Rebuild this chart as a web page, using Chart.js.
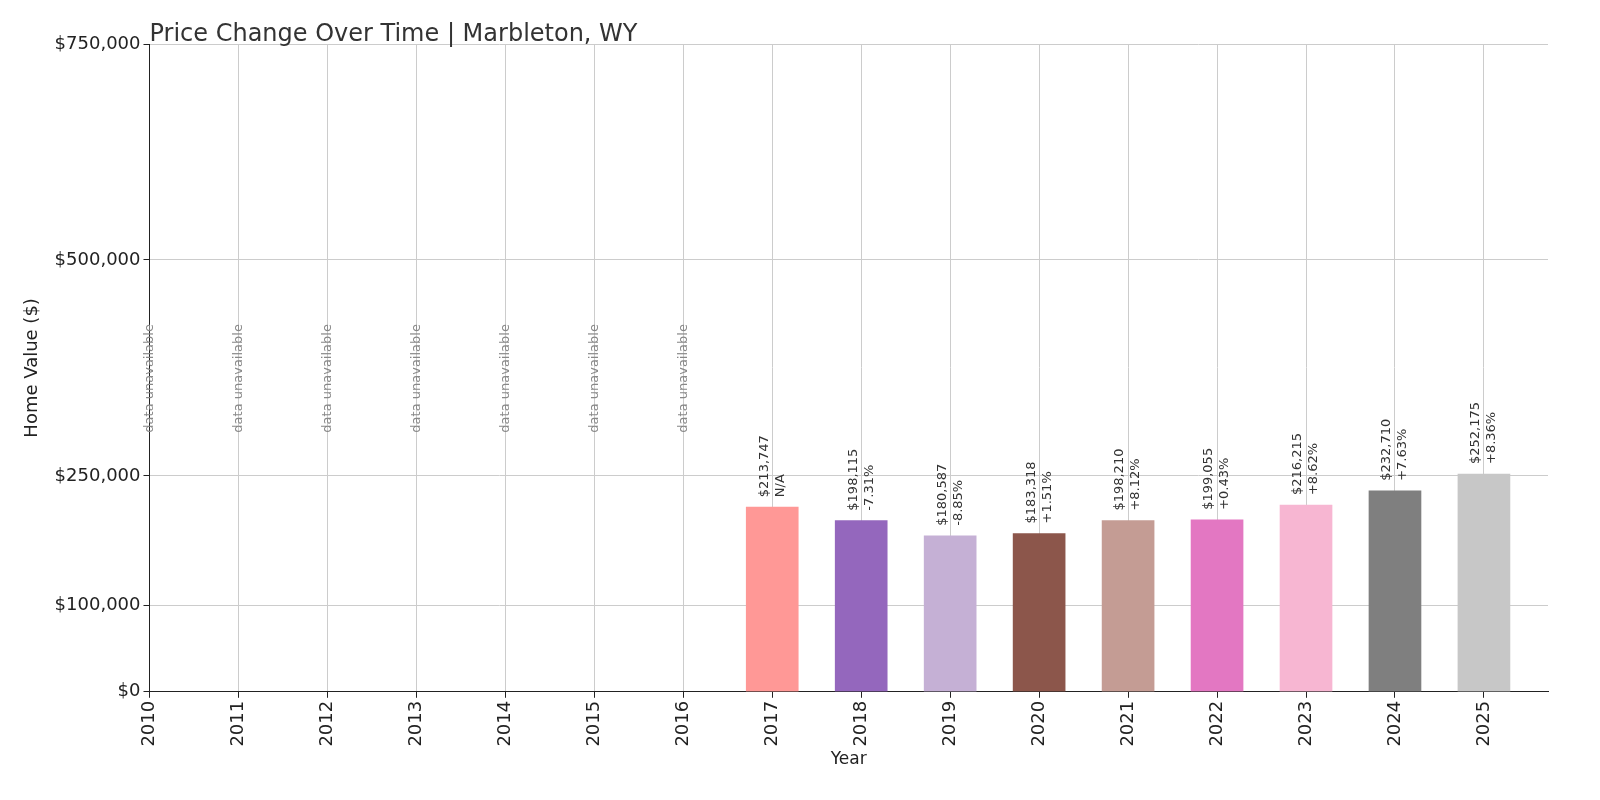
<!DOCTYPE html>
<html><head><meta charset="utf-8">
<script src="https://cdn.jsdelivr.net/npm/chart.js@4"></script>
<style>html,body{margin:0;padding:0;background:#fff}#wrap{width:1600px;height:800px}</style>
</head><body><div id="wrap"><canvas id="c" width="1600" height="800"></canvas></div>
<script>
const years = [2010,2011,2012,2013,2014,2015,2016,2017,2018,2019,2020,2021,2022,2023,2024,2025];
const values = [null,null,null,null,null,null,null,213747,198115,180587,183318,198210,199055,216215,232710,252175];
const changes = ["","","","","","","","N/A","-7.31%","-8.85%","+1.51%","+8.12%","+0.43%","+8.62%","+7.63%","+8.36%"];
const colors = ["","","","","","","","#ff9896","#9467bd","#c5b0d5","#8c564b","#c49c94","#e377c2","#f7b6d2","#7f7f7f","#c7c7c7"];
const yTicks = [0,100000,250000,500000,750000];
const titleText = 'Price Change Over Time | Marbleton, WY';

const fmt = v => '$' + v.toLocaleString('en-US');
const labelPlugin = {
  id:'lbl',
  afterDatasetsDraw(chart){
    const ctx = chart.ctx, xs = chart.scales.x, ys = chart.scales.y;
    ctx.save();
    ctx.font = '24px "DejaVu Sans"';
    ctx.fillStyle = '#333'; ctx.textAlign='left'; ctx.textBaseline='alphabetic';
    ctx.fillText(titleText, chart.chartArea.left, 41);
    ctx.font = '13px "DejaVu Sans"';
    years.forEach((yr,i)=>{
      const x = xs.getPixelForValue(yr);
      ctx.save();
      if (values[i] == null) {
        ctx.translate(x, ys.getPixelForValue(300000));
        ctx.rotate(-Math.PI/2);
        ctx.fillStyle = '#888';
        ctx.textAlign='left'; ctx.textBaseline='middle';
        ctx.fillText('data unavailable', 0, 0);
      } else {
        ctx.translate(x, ys.getPixelForValue(values[i]) - 10);
        ctx.rotate(-Math.PI/2);
        ctx.fillStyle = '#333';
        ctx.textAlign='left'; ctx.textBaseline='middle';
        ctx.fillText(fmt(values[i]), 0, -8);
        ctx.fillText(changes[i], 0, 8);
      }
      ctx.restore();
    });
    ctx.restore();
  }
};

new Chart(document.getElementById('c'), {
  type:'bar',
  data:{ datasets:[{
    data: years.map((y,i)=>({x:y, y:values[i]})),
    backgroundColor: colors, barThickness:52
  }]},
  options:{
    responsive:false, animation:false, devicePixelRatio:1,
    layout:{padding:{left:18,right:52,top:44,bottom:30}},
    plugins:{legend:{display:false}, tooltip:{enabled:false}, title:{display:false}},
    scales:{
      x:{type:'linear', min:2010, max:2025.72, offset:false,
        afterBuildTicks(a){ a.ticks = years.map(v=>({value:v})); },
        ticks:{callback:v=>String(v), minRotation:90, maxRotation:90, color:'#222', font:{family:'DejaVu Sans', size:18}},
        grid:{color:'#ccc', offset:false, tickColor:'#222', tickLength:6},
        border:{color:'#222'},
        title:{display:true, text:'Year', color:'#222', font:{family:'DejaVu Sans', size:17}, padding:0}},
      y:{min:0, max:750000,
        afterBuildTicks(a){ a.ticks = yTicks.map(v=>({value:v})); },
        ticks:{callback:v=>fmt(v), color:'#222', font:{family:'DejaVu Sans', size:18}},
        grid:{color:'#ccc', tickColor:'#222', tickLength:6},
        border:{color:'#222'},
        title:{display:true, text:'Home Value ($)', color:'#222', font:{family:'DejaVu Sans', size:18}, padding:{bottom:8}}}
    }
  },
  plugins:[labelPlugin, {id:'dash', beforeDraw(chart){
    chart.scales.x.options.grid.borderDash = [4,3];
  }}]
});
</script></body></html>
